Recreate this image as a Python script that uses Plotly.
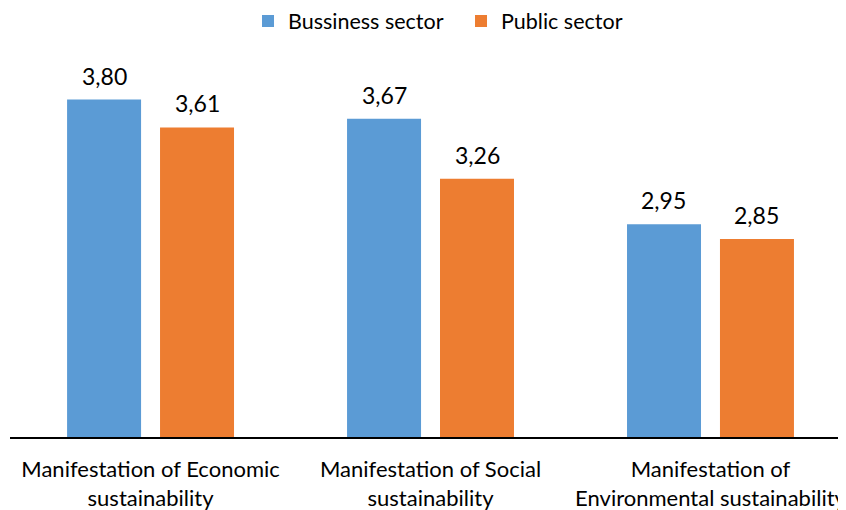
import plotly.graph_objects as go

categories = ["Manifestation of Economic<br>sustainability",
              "Manifestation of Social<br>sustainability",
              "Manifestation of<br>Environmental sustainability"]
business = [3.80, 3.67, 2.95]
public = [3.61, 3.26, 2.85]
series_names = ["Bussiness sector", "Public sector"]
colors = ["#5B9BD5", "#ED7D31"]

FONT = "Lato"

fig = go.Figure()
for name, vals, col in zip(series_names, [business, public], colors):
    fig.add_trace(go.Bar(
        x=categories, y=vals, name=name, marker_color=col,
        marker_line_width=0, cliponaxis=False,
    ))

# value labels above bars
offsets = [-46.5, 46.5]
for vals, dx in zip([business, public], offsets):
    for cat, v in zip(categories, vals):
        fig.add_annotation(
            x=cat, y=v, xref="x", yref="y", xshift=dx, yshift=24,
            text=f"{v:.2f}".replace(".", ","), showarrow=False,
            xanchor="center", yanchor="middle",
            font=dict(family=FONT, size=23, color="#000000"),
        )

fig.update_layout(
    width=838, height=502,
    margin=dict(l=2, r=0, t=42, b=73, autoexpand=False),
    paper_bgcolor="white", plot_bgcolor="white",
    barmode="group", bargap=0.336, bargroupgap=0.204,
    separators=",.",
    font=dict(family=FONT, size=21.5, color="#000000"),
    showlegend=True,
    legend=dict(orientation="h", x=0.2847, xanchor="left", y=1.075, yanchor="middle",
                font=dict(family=FONT, size=21.5, color="#000000"),
                entrywidth=168, entrywidthmode="pixels",
                traceorder="normal"),
    xaxis=dict(range=[-0.502, 2.484], showline=True, linecolor="#000000", linewidth=1.5,
               ticks="", showgrid=False, zeroline=False, automargin=False,
               ticklabelstandoff=12,
               tickfont=dict(family=FONT, size=22, color="#000000")),
    yaxis=dict(range=[1.5, 4.138], visible=False, showgrid=False, zeroline=False,
               automargin=False),
)

fig.write_html("out.html")
